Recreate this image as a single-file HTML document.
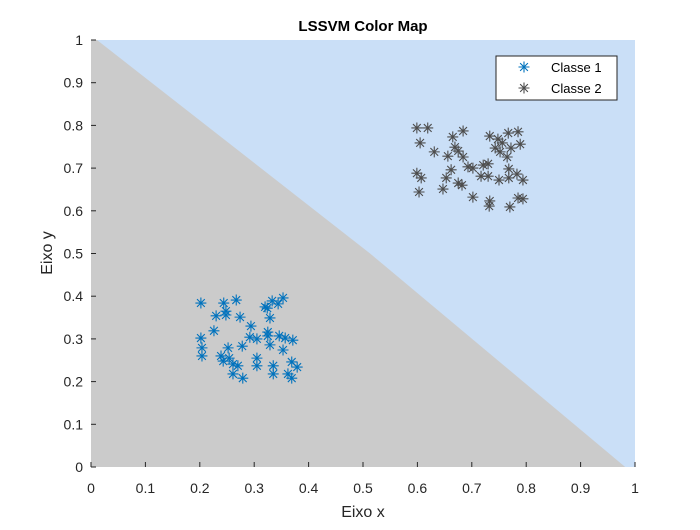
<!DOCTYPE html>
<html><head><meta charset="utf-8"><style>
body{margin:0;background:#fff;font-family:"Liberation Sans",sans-serif}
</style></head><body>
<svg id="chart" width="700" height="525" xmlns="http://www.w3.org/2000/svg" font-family="Liberation Sans, sans-serif">
<rect width="700" height="525" fill="#fff"/>
<g id="plot"></g>
<g id="axes"></g>
<text x="363" y="31" text-anchor="middle" font-size="15" font-weight="bold" fill="#000">LSSVM Color Map</text>
<text x="363" y="517" text-anchor="middle" font-size="16" fill="#262626">Eixo x</text>
<text transform="translate(52,253) rotate(-90)" text-anchor="middle" font-size="16" fill="#262626">Eixo y</text>
<g>
<rect x="496" y="56" width="121" height="44" fill="#fff" stroke="#262626" stroke-width="1"/>
<g><g id="lm1"></g><text x="551" y="72" font-size="13" fill="#000">Classe 1</text></g>
<g><g id="lm2"></g><text x="551" y="93" font-size="13" fill="#000">Classe 2</text></g>
</g>
</svg>
<script>
const ticks=[0,0.1,0.2,0.3,0.4,0.5,0.6,0.7,0.8,0.9,1];
const tickLabels=["0","0.1","0.2","0.3","0.4","0.5","0.6","0.7","0.8","0.9","1"];
const boundary=[[0.011,1],[0.513,0.5],[0.982,0]];
const c1x=[.202,.244,.267,.230,.248,.248,.274,.320,.333,.344,.353,.324,.329,.294,.226,.325,.202,.292,.305,.325,.346,.357,.371,.329,.278,.204,.252,.353,.204,.239,.254,.243,.305,.261,.270,.305,.335,.369,.379,.261,.279,.335,.362,.369];
const c1y=[.384,.384,.391,.354,.365,.356,.351,.375,.389,.382,.396,.372,.349,.330,.319,.316,.302,.304,.300,.307,.307,.302,.297,.286,.283,.279,.279,.274,.260,.260,.255,.248,.255,.241,.237,.237,.237,.246,.234,.218,.208,.218,.218,.208];
const c2x=[.599,.619,.605,.631,.665,.684,.669,.675,.656,.684,.733,.748,.767,.785,.789,.756,.743,.772,.752,.765,.662,.693,.702,.721,.730,.599,.607,.653,.717,.730,.750,.768,.768,.783,.794,.675,.682,.647,.603,.702,.733,.732,.770,.785,.794];
const c2y=[.794,.794,.759,.738,.773,.787,.749,.740,.728,.726,.775,.768,.782,.785,.756,.759,.747,.747,.738,.726,.696,.703,.700,.707,.710,.688,.677,.677,.681,.681,.672,.698,.677,.686,.672,.665,.660,.651,.644,.632,.623,.611,.609,.630,.628];
const X0=91,X1=635,Y0=467,Y1=40;
const sx=v=>X0+v*(X1-X0), sy=v=>Y0-v*(Y0-Y1);
const NS="http://www.w3.org/2000/svg";
function mk(t,a,p){const e=document.createElementNS(NS,t);for(const k in a)e.setAttribute(k,a[k]);p.appendChild(e);return e;}
const plot=document.getElementById('plot'), axes=document.getElementById('axes');
const bg=mk('rect',{x:X0,y:Y1,width:X1-X0,height:Y0-Y1,fill:'#cadff7'},plot);


let pts=[[sx(0),sy(0)],[sx(0),sy(1)]].concat(boundary.map(b=>[sx(b[0]),sy(b[1])]));
const gr=mk('polygon',{points:pts.map(p=>p.join(',')).join(' '),fill:'#cbcbcb'},plot);


function star(g,x,y,c){const r=5.5,d=r*0.707;
 mk('path',{d:`M${x-r},${y}H${x+r}M${x},${y-r}V${y+r}M${x-d},${y-d}L${x+d},${y+d}M${x-d},${y+d}L${x+d},${y-d}`,stroke:c,'stroke-width':1.1,fill:'none'},g);}
const g1=mk('g',{},plot);


c1x.forEach((v,i)=>star(g1,sx(v),sy(c1y[i]),'#0072bd'));
const g2=mk('g',{},plot);


c2x.forEach((v,i)=>star(g2,sx(v),sy(c2y[i]),'#4d4d4d'));
star(document.getElementById('lm1'),524,67,'#0072bd');
star(document.getElementById('lm2'),524,88,'#4d4d4d');
ticks.forEach((t,i)=>{
 mk('line',{x1:sx(t),x2:sx(t),y1:Y0,y2:Y0-5,stroke:'#262626'},axes);
 mk('line',{x1:X0,x2:X0+5,y1:sy(t),y2:sy(t),stroke:'#262626'},axes);
 const tx=mk('text',{x:sx(t),y:Y0+26,'text-anchor':'middle','font-size':14,fill:'#262626'},axes);tx.textContent=tickLabels[i];
 
 
 const ty=mk('text',{x:X0-8,y:sy(t)+5,'text-anchor':'end','font-size':14,fill:'#262626'},axes);ty.textContent=tickLabels[i];
 
 
});
</script>
</body></html>
